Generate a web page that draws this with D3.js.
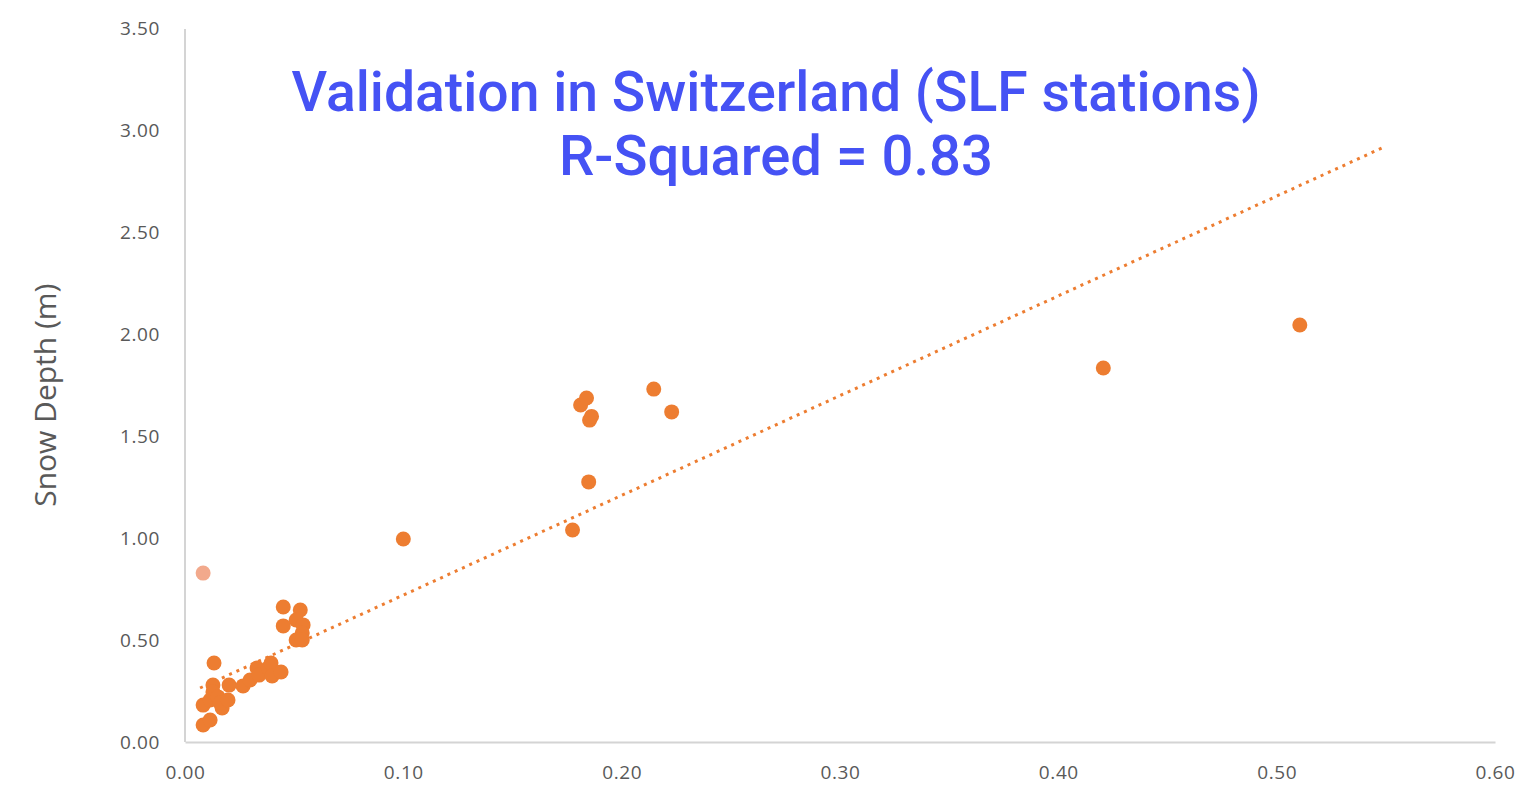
<!DOCTYPE html>
<meta charset="utf-8">
<head>
<script src="https://d3js.org/d3.v7.min.js"></script>
<style>
body { margin: 0; background: #fff; }
.tick text { font-family: "Open Sans", sans-serif; font-size: 19px; letter-spacing: 0.6px; fill: #595959; }
</style>
</head>
<body>
<div id="my_dataviz"></div>
<script>
// satellite-derived value (x) vs observed snow depth in metres (y)
var xVals = [0.5106, 0.4206, 0.2147, 0.2229, 0.1812, 0.1839, 0.1853, 0.1862, 0.1849, 0.1775, 0.1000,
             0.0083, 0.0115, 0.0083, 0.0115, 0.0133, 0.0128, 0.0128, 0.0151, 0.0170, 0.0161,
             0.0197, 0.0202, 0.0266, 0.0298, 0.0330, 0.0339, 0.0381, 0.0394, 0.0399, 0.0440,
             0.0450, 0.0450, 0.0528, 0.0509, 0.0541, 0.0537, 0.0509, 0.0537];
var yVals = [2.044, 1.833, 1.730, 1.618, 1.652, 1.686, 1.578, 1.596, 1.275, 1.039, 0.995,
             0.083, 0.108, 0.181, 0.206, 0.387, 0.279, 0.245, 0.221, 0.167, 0.191,
             0.206, 0.279, 0.275, 0.304, 0.363, 0.328, 0.363, 0.387, 0.324, 0.343,
             0.662, 0.569, 0.647, 0.598, 0.574, 0.534, 0.500, 0.500];
// the one light coloured outlier
var outlier = [0.0083, 0.828];
// linear trend line: y = slope * x + intercept, drawn over this x range
var trendSlope = 4.89, trendIntercept = 0.231, trendRange = [0.0069, 0.55];

var xTicks = [0, 0.1, 0.2, 0.3, 0.4, 0.5, 0.6];
var yTicks = [0, 0.5, 1, 1.5, 2, 2.5, 3, 3.5];
var titleLines = ["Validation in Switzerland (SLF stations)", "R-Squared = 0.83"];

var width = 1523, height = 793;
var margin = {top: 28, right: 28, bottom: 51, left: 185};

var svg = d3.select("#my_dataviz").append("svg")
    .attr("width", width).attr("height", height);

var x = d3.scaleLinear().domain([0, 0.6]).range([margin.left, width - margin.right]);
var y = d3.scaleLinear().domain([0, 3.5]).range([height - margin.bottom, margin.top]);

// axes
var xAxis = svg.append("g")
    .attr("transform", "translate(0," + y(0) + ")")
    .call(d3.axisBottom(x).tickValues(xTicks).tickFormat(d3.format(".2f")).tickSize(0).tickPadding(24));
var yAxis = svg.append("g")
    .attr("transform", "translate(" + x(0) + ",0)")
    .call(d3.axisLeft(y).tickValues(yTicks).tickFormat(d3.format(".2f")).tickSize(0).tickPadding(25));
svg.selectAll(".domain").attr("stroke", "#d4d4d4").attr("stroke-width", 2);
yAxis.select(".domain").attr("d", "M0," + (y(3.5) + 1) + "V" + y(0));

// y label
svg.append("text")
    .attr("transform", "translate(56," + y(1.7) + ") rotate(-90)")
    .attr("text-anchor", "middle")
    .style("font-family", "'Open Sans', sans-serif")
    .style("font-size", "30px")
    .style("fill", "#595959")
    .text("Snow Depth (m)");

// trend line (dotted)
svg.append("line")
    .attr("x1", x(trendRange[0])).attr("y1", y(trendSlope * trendRange[0] + trendIntercept))
    .attr("x2", x(trendRange[1])).attr("y2", y(trendSlope * trendRange[1] + trendIntercept))
    .attr("stroke", "#ed7d31")
    .attr("stroke-width", 3)
    .attr("stroke-dasharray", "3,5");

// points
var data = xVals.map(function(v, i) { return {x: v, y: yVals[i]}; });
svg.selectAll("circle.pt")
    .data(data)
    .enter().append("circle")
    .attr("class", "pt")
    .attr("cx", function(d) { return x(d.x); })
    .attr("cy", function(d) { return y(d.y); })
    .attr("r", 7.5)
    .attr("fill", "#ed7d31");

svg.append("circle")
    .attr("cx", x(outlier[0])).attr("cy", y(outlier[1]))
    .attr("r", 7.5)
    .attr("fill", "#f2a98c");

// title
var titleWidths = [969, 434];
svg.selectAll("text.title")
    .data(titleLines)
    .enter().append("text")
    .attr("class", "title")
    .attr("x", 776)
    .attr("y", function(d, i) { return 111 + i * 64; })
    .attr("text-anchor", "middle")
    .attr("textLength", function(d, i) { return titleWidths[i]; })
    .attr("lengthAdjust", "spacingAndGlyphs")
    .style("font-family", "Roboto, sans-serif")
    .style("font-weight", 500)
    .style("font-size", "55px")
    .style("fill", "#4552f4")
    .text(function(d) { return d; });
</script>
</body>
</html>
